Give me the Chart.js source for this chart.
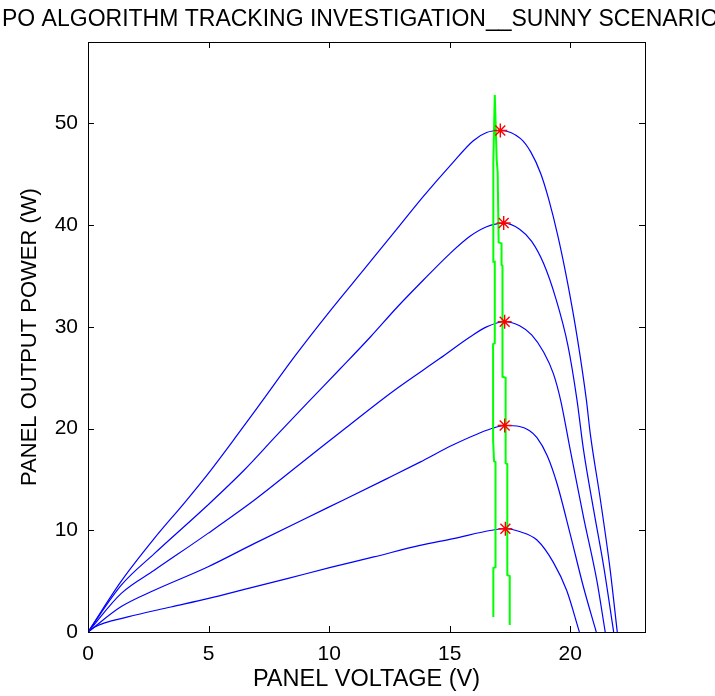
<!DOCTYPE html>
<html>
<head>
<meta charset="utf-8">
<title>PO algorithm tracking investigation</title>
<script src="https://cdn.jsdelivr.net/npm/chart.js@4.4.1/dist/chart.umd.min.js"></script>
<style>
  html, body { margin: 0; padding: 0; background: #fff; }
  canvas { display: block; }
</style>
</head>
<body>
<canvas id="pvChart" width="715" height="696"></canvas>
<script>
// P-V curves of the panel for five irradiance levels (V in volts, P in watts)
const v50 = [0, 1.38, 2.75, 4.0, 4.96, 6.2, 7.16, 8.54, 10.05, 11.43, 12.67, 13.9, 15.15, 15.98, 16.53, 17.1, 17.94, 18.36, 18.77, 19.1, 19.5, 19.9, 20.3, 20.67, 20.83, 21.25, 21.64, 21.95];
const p50 = [0, 5.0, 9.2, 12.7, 15.5, 19.4, 22.5, 27.0, 31.6, 35.6, 39.2, 42.8, 46.2, 48.3, 49.1, 49.3, 48.5, 47.2, 45.1, 42.6, 38.8, 34.2, 28.8, 22.8, 19.5, 13.0, 6.4, 0];

const v40 = [0, 1.38, 2.75, 4.96, 6.47, 7.85, 9.09, 10.47, 11.71, 12.81, 13.91, 15.01, 15.84, 16.53, 17.24, 17.9, 18.4, 18.9, 19.4, 19.9, 20.28, 20.55, 20.97, 21.39, 21.8];
const p40 = [0, 4.6, 7.7, 12.46, 15.9, 19.4, 22.5, 25.9, 29.0, 31.9, 34.6, 37.2, 38.9, 39.84, 40.2, 39.6, 38.4, 36.2, 32.8, 28.2, 22.8, 17.9, 12.0, 6.4, 0];

const v30 = [0, 1.38, 2.75, 4.96, 6.89, 8.82, 10.74, 12.67, 14.6, 15.84, 16.53, 17.28, 17.9, 18.4, 18.9, 19.3, 19.6, 20.0, 20.55, 21.1, 21.45];
const p30 = [0, 3.8, 6.07, 9.67, 12.95, 16.56, 20.16, 23.7, 26.9, 29.0, 30.0, 30.5, 30.1, 29.2, 27.5, 25.4, 22.8, 17.9, 11.3, 5.1, 0];

const v20 = [0, 1.38, 2.75, 4.96, 6.89, 9.92, 12.4, 13.77, 15.15, 16.74, 17.28, 17.9, 18.3, 18.62, 19.05, 19.45, 19.99, 20.55, 21.08];
const p20 = [0, 2.5, 4.1, 6.39, 8.69, 12.2, 15.08, 16.7, 18.4, 20.0, 20.3, 20.2, 19.8, 19.1, 17.3, 14.6, 9.7, 4.4, 0];

const v10 = [0, 0.28, 1.65, 3.44, 4.96, 6.61, 8.26, 10.06, 11.85, 13.77, 15.15, 16.74, 17.31, 17.93, 18.62, 19.31, 19.85, 20.38];
const p10 = [0, 0.5, 1.48, 2.46, 3.28, 4.26, 5.25, 6.35, 7.38, 8.52, 9.18, 10.0, 10.15, 9.85, 9.04, 6.8, 4.1, 0];

// maximum power points found by the P&O tracker
const mppV = [17.1, 17.24, 17.28, 17.28, 17.31];
const mppP = [49.3, 40.2, 30.5, 20.3, 10.15];

// operating point trace of the tracker (up the left side, down the right side)
const trackV = [16.81, 16.81, 16.9, 16.9, 16.84, 16.8, 16.8, 16.87, 16.87, 16.81, 16.81, 16.87, 16.95, 16.99, 17.03, 17.15, 17.15, 17.19, 17.19, 17.32, 17.32, 17.39, 17.39, 17.49, 17.49];
const trackP = [1.47, 6.29, 6.39, 16.7, 16.8, 18.9, 28.3, 28.4, 36.4, 36.4, 46.2, 52.8, 46.4, 45.2, 38.3, 38.2, 36.1, 36.0, 25.1, 25.0, 16.6, 16.5, 5.6, 5.5, 0.69];

const xTicks = [0, 5, 10, 15, 20];
const yTicks = [0, 10, 20, 30, 40, 50];

const chartTitle = "PO ALGORITHM TRACKING INVESTIGATION__SUNNY SCENARIO";
const FONT = "'Liberation Sans', Arial, Helvetica, sans-serif";

function toPoints(xs, ys) {
  return xs.map((x, i) => ({ x: x, y: ys[i] }));
}

function curve(xs, ys) {
  return {
    data: toPoints(xs, ys),
    showLine: true,
    borderColor: "#0000ff",
    borderWidth: 1.2,
    pointRadius: 0,
    cubicInterpolationMode: "monotone",
    order: 2,
  };
}

// MATLAB style box: frame all round, ticks pointing inward on every side
const boxFrame = {
  id: "boxFrame",
  afterDatasetsDraw(chart) {
    const { ctx, chartArea: a, scales } = chart;
    const len = 6;
    ctx.save();
    ctx.strokeStyle = "#000";
    ctx.lineWidth = 1;
    ctx.beginPath();
    scales.x.ticks.forEach((t) => {
      const px = Math.round(scales.x.getPixelForValue(t.value)) + 0.5;
      ctx.moveTo(px, a.bottom);
      ctx.lineTo(px, a.bottom - len);
      ctx.moveTo(px, a.top);
      ctx.lineTo(px, a.top + len);
    });
    scales.y.ticks.forEach((t) => {
      const py = Math.round(scales.y.getPixelForValue(t.value)) + 0.5;
      ctx.moveTo(a.left, py);
      ctx.lineTo(a.left + len, py);
      ctx.moveTo(a.right, py);
      ctx.lineTo(a.right - len, py);
    });
    ctx.stroke();
    ctx.strokeRect(Math.round(a.left) + 0.5, Math.round(a.top) + 0.5,
      Math.round(a.right - a.left), Math.round(a.bottom - a.top));
    ctx.restore();
  },
};

// the original title runs past the right edge of the figure, so it is drawn
// by hand instead of by the title plugin (which would squeeze it to fit)
const wideTitle = {
  id: "wideTitle",
  afterDraw(chart) {
    const ctx = chart.ctx;
    ctx.save();
    ctx.fillStyle = "#000";
    ctx.font = "23px " + FONT;
    ctx.textAlign = "left";
    ctx.textBaseline = "middle";
    ctx.fillText(chartTitle, 2, 20);
    ctx.restore();
  },
};

new Chart(document.getElementById("pvChart"), {
  type: "scatter",
  data: {
    datasets: [
      {
        label: "MPP",
        data: toPoints(mppV, mppP),
        showLine: false,
        pointStyle: "star",
        pointRadius: 7,
        borderColor: "#ff0000",
        backgroundColor: "#ff0000",
        borderWidth: 1.4,
        order: 0,
      },
      {
        label: "Tracking",
        data: toPoints(trackV, trackP),
        showLine: true,
        borderColor: "#00ff00",
        borderWidth: 2,
        pointRadius: 0,
        order: 1,
      },
      curve(v50, p50),
      curve(v40, p40),
      curve(v30, p30),
      curve(v20, p20),
      curve(v10, p10),
    ],
  },
  options: {
    responsive: false,
    devicePixelRatio: 1,
    animation: false,
    layout: { padding: { left: 2, right: 70, top: 42, bottom: 0 } },
    plugins: {
      legend: { display: false },
      tooltip: { enabled: false },
      title: { display: false },
    },
    scales: {
      x: {
        type: "linear",
        min: 0,
        max: 23.1,
        afterBuildTicks: (s) => {
          s.ticks = xTicks.map((v) => ({ value: v }));
        },
        afterFit: (s) => {
          s.height = 64;
        },
        grid: { display: false, drawTicks: false },
        border: { display: false },
        ticks: {
          color: "#000",
          font: { family: FONT, size: 21 },
          padding: 10,
          maxRotation: 0,
          autoSkip: false,
        },
        title: {
          display: true,
          text: "PANEL VOLTAGE (V)",
          color: "#000",
          font: { family: FONT, size: 23.5 },
          padding: { top: 0, bottom: 2 },
        },
      },
      y: {
        type: "linear",
        min: 0,
        max: 58,
        afterBuildTicks: (s) => {
          s.ticks = yTicks.map((v) => ({ value: v }));
        },
        afterFit: (s) => {
          s.width = 86;
        },
        grid: { display: false, drawTicks: false },
        border: { display: false },
        ticks: {
          color: "#000",
          font: { family: FONT, size: 21 },
          padding: 10,
          autoSkip: false,
        },
        title: {
          display: true,
          text: "PANEL OUTPUT POWER (W)",
          color: "#000",
          font: { family: FONT, size: 22 },
          padding: { top: 15, bottom: 0 },
        },
      },
    },
  },
  plugins: [boxFrame, wideTitle],
});
</script>
</body>
</html>
